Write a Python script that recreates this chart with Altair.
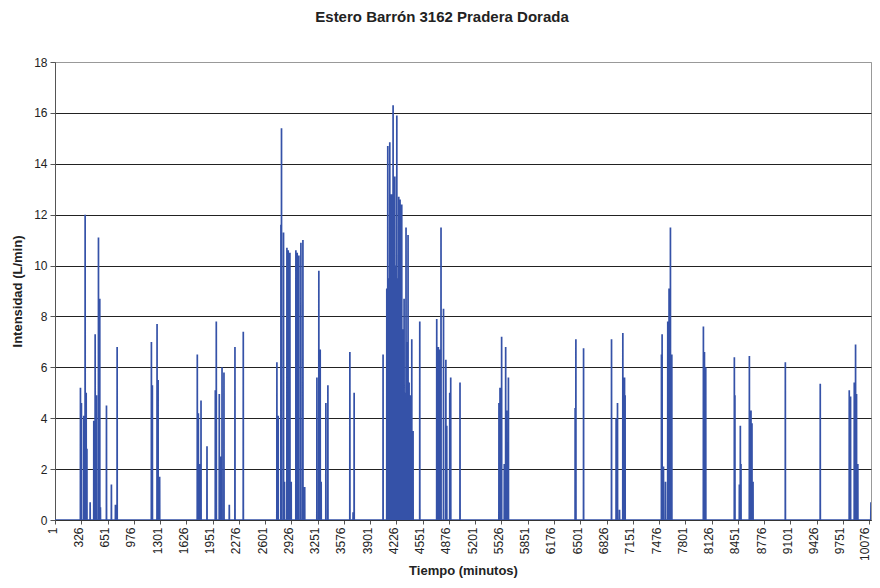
import altair as alt
import pandas as pd

# Spikes: minute of peak and intensity (L/min)
spike_min = [
    316, 328, 357, 374, 387, 396, 436, 481, 498, 514, 539, 555, 563, 638, 699, 749, 770,
    1194, 1206, 1264, 1277, 1296,
    1762, 1775, 1787, 1808, 1882, 1985, 1997, 2034, 2050, 2068, 2092, 2158, 2228, 2331,
    2747, 2763, 2797, 2804, 2829, 2841, 2871, 2887, 2908, 2924, 2982, 2998, 3019, 3044, 3069, 3091,
    3242, 3266, 3283, 3295, 3353, 3378,
    3650, 3690, 3703,
    4061, 4107, 4119, 4130, 4144, 4152, 4164, 4175, 4185, 4195, 4206, 4218, 4231, 4243,
    4255, 4262, 4271, 4282, 4292, 4300, 4312, 4321, 4335, 4345, 4357, 4370, 4383, 4395,
    4416, 4432, 4515,
    4725, 4745, 4760, 4778, 4809, 4838, 4849, 4886, 4898, 5013,
    5495, 5508, 5528, 5561, 5578, 5590, 5612,
    6438, 6447, 6542,
    6888, 6945, 6962, 6987, 7028, 7049, 7056,
    7506, 7514, 7531, 7556, 7584, 7600, 7617, 7634,
    8025, 8038, 8054,
    8408, 8415, 8470, 8482, 8490, 8594, 8614, 8626, 8639,
    9039,
    9471,
    9830, 9846, 9892, 9908, 9920, 9936,
]
spike_val = [
    5.2, 4.6, 4.1, 12.0, 5.0, 2.8, 0.7, 3.9, 7.3, 4.9, 11.1, 8.7, 0.5, 4.5, 1.4, 0.6, 6.8,
    7.0, 5.3, 7.7, 5.5, 1.7,
    6.5, 4.2, 2.2, 4.7, 2.9, 5.1, 7.8, 4.95, 2.5, 6.0, 5.8, 0.6, 6.8, 7.4,
    6.2, 4.1, 11.6, 15.4, 11.3, 1.5, 10.7, 10.6, 10.5, 1.5, 10.6, 10.5, 10.4, 10.9, 11.0, 1.3,
    5.6, 9.8, 6.7, 1.5, 4.6, 5.3,
    6.6, 0.3, 5.0,
    6.5, 9.1, 14.7, 9.5, 14.85, 10.5, 12.8, 9.0, 16.3, 11.0, 13.5, 10.0, 15.9, 9.5,
    12.7, 8.5, 12.6, 9.0, 12.4, 7.5, 6.0, 8.7, 5.0, 11.5, 7.0, 11.2, 5.4, 4.9,
    7.1, 3.5, 7.8,
    7.9, 6.8, 6.7, 11.5, 8.3, 6.3, 3.7, 5.0, 5.6, 5.4,
    4.6, 5.2, 7.2, 2.2, 6.8, 4.3, 5.6,
    4.4, 7.1, 6.75,
    7.1, 4.0, 4.6, 0.4, 7.35, 5.6, 4.9,
    6.5, 7.3, 2.1, 1.5, 7.8, 9.1, 11.5, 6.5,
    7.6, 6.6, 6.0,
    6.4, 4.9, 1.4, 3.7, 2.2, 6.45, 4.3, 3.8, 1.5,
    6.2,
    5.35,
    5.1, 4.85, 5.4, 6.9, 4.95, 2.2,
]
end_min = [1, 10096, 10099]
end_val = [0.0, 0.0, 0.7]

x_ticks = [1, 326, 651, 976, 1301, 1626, 1951, 2276, 2601, 2926, 3251, 3576, 3901,
           4226, 4551, 4876, 5201, 5526, 5851, 6176, 6501, 6826, 7151, 7476, 7801,
           8126, 8451, 8776, 9101, 9426, 9751, 10076]
y_ticks = [0, 2, 4, 6, 8, 10, 12, 14, 16, 18]

rows = [(end_min[0], end_val[0])]
for m, v in zip(spike_min, spike_val):
    rows += [(m - 1, 0.0), (m, v), (m + 1, 0.0)]
rows += [(end_min[1], end_val[1]), (end_min[2], end_val[2])]
df = pd.DataFrame(rows, columns=["t", "v"])

FONT = "Liberation Sans"

chart = alt.Chart(df).mark_line(
    color="#3552A8", strokeWidth=1.7, clip=True
).encode(
    x=alt.X("t:Q",
            scale=alt.Scale(domain=[1, 10099], nice=False, zero=False),
            axis=alt.Axis(values=x_ticks, format="d", labelAngle=-90,
                          title="Tiempo (minutos)", grid=False,
                          labelFont=FONT, labelFontSize=12, labelColor="#222",
                          titleFont=FONT, titleFontSize=13, titleFontWeight="bold",
                          titleColor="#222", titlePadding=4,
                          tickSize=4, tickColor="#555", domainColor="#333",
                          labelPadding=3,
                          labelOffset={"condition": {"test": "datum.value == 10076", "value": -5},
                                       "value": -3},
                          labelOverlap=False)),
    y=alt.Y("v:Q",
            scale=alt.Scale(domain=[0, 18], nice=False),
            axis=alt.Axis(values=y_ticks, format="d",
                          title="Intensidad (L/min)",
                          gridColor={"condition": {"test": "datum.value == 18", "value": "#999999"},
                                     "value": "#222222"},
                          gridWidth=1,
                          labelFont=FONT, labelFontSize=12, labelColor="#222",
                          titleFont=FONT, titleFontSize=13, titleFontWeight="bold",
                          titleColor="#222", titlePadding=9,
                          tickSize=5, tickColor="#555", domainColor="#555",
                          labelPadding=3)),
).properties(
    width=816, height=458,
    padding={"left": 47, "top": 54, "right": 1, "bottom": 60},
    autosize=alt.AutoSizeParams(type="none"),
    title=alt.TitleParams("Estero Barrón 3162 Pradera Dorada", font=FONT,
                          fontSize=15, fontWeight="bold", color="#222",
                          anchor="middle", dx=-21, offset=31),
).configure_view(stroke="#999999", strokeWidth=1)

chart.save("out.html", embed_options={"renderer": "svg", "actions": False})
